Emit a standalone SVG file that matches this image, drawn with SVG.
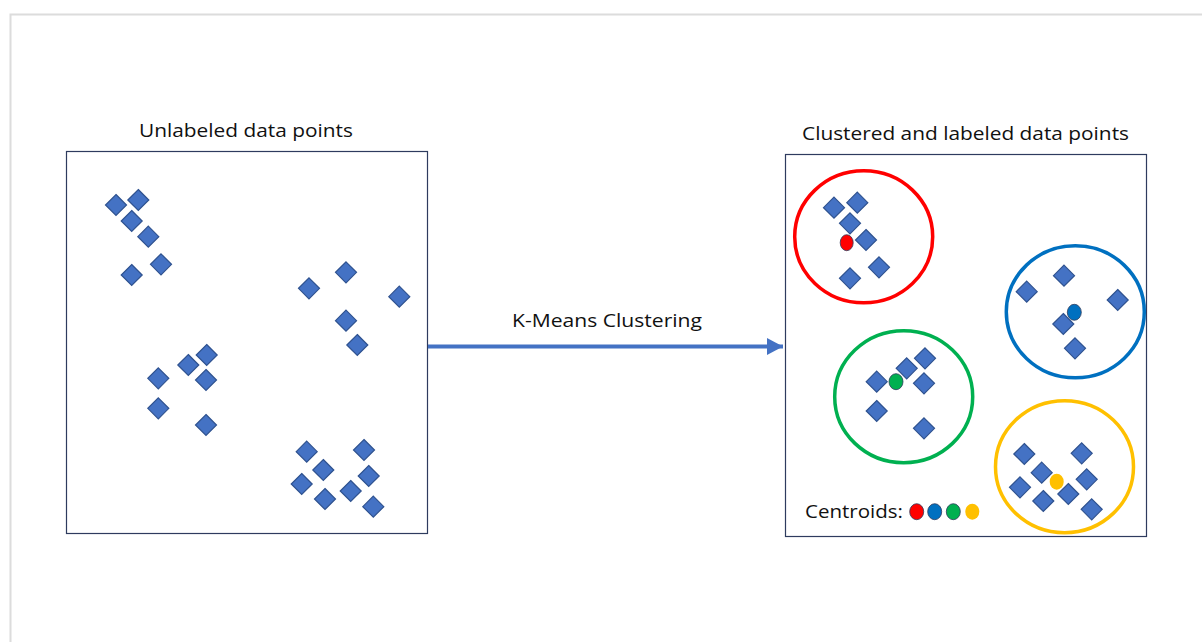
<svg xmlns="http://www.w3.org/2000/svg" xmlns:xlink="http://www.w3.org/1999/xlink" width="1202" height="642" viewBox="0 0 1202 642">
<style>
.box{fill:#fff;stroke:#2E3B5E;stroke-width:1.2}
.dm{fill:#4472C4;stroke:#2F528F;stroke-width:1.2}
.lbl{font-family:"Open Sans","Liberation Sans",sans-serif;fill:#111;}
.ring{fill:none;stroke-width:3.5}
.cen{stroke:#2F3B5C;stroke-width:0.8}
</style>
<defs>
<path id="d" d="M0,-10.5 L10.5,0 L0,10.5 L-10.5,0 Z" class="dm"/>
<marker id="ah" markerWidth="5" markerHeight="5" refX="4" refY="2.5" orient="auto" markerUnits="strokeWidth">
<path d="M0,0.4 L4,2.5 L0,4.6 Z" fill="#4472C4"/>
</marker>
</defs>
<rect width="1202" height="642" fill="#fff"/>
<path d="M10.5,642 L10.5,14.5 L1202,14.5" fill="none" stroke="#DCDCDC" stroke-width="2"/>

<g id="unlabeled">
<text class="lbl" x="139" y="137" font-size="18" textLength="214" lengthAdjust="spacingAndGlyphs">Unlabeled data points</text>
<rect class="box" x="66.5" y="151.5" width="361" height="382"/>
<use xlink:href="#d" x="116" y="205"/>
<use xlink:href="#d" x="138.3" y="200"/>
<use xlink:href="#d" x="131.7" y="221"/>
<use xlink:href="#d" x="148.3" y="236.7"/>
<use xlink:href="#d" x="161" y="264.3"/>
<use xlink:href="#d" x="131.7" y="275"/>
<use xlink:href="#d" x="346" y="272.3"/>
<use xlink:href="#d" x="309" y="288.3"/>
<use xlink:href="#d" x="399.3" y="296.7"/>
<use xlink:href="#d" x="346" y="320.7"/>
<use xlink:href="#d" x="357.3" y="345"/>
<use xlink:href="#d" x="206.7" y="355"/>
<use xlink:href="#d" x="188.3" y="365"/>
<use xlink:href="#d" x="158.3" y="378.3"/>
<use xlink:href="#d" x="206" y="380"/>
<use xlink:href="#d" x="158.3" y="408.3"/>
<use xlink:href="#d" x="206" y="425"/>
<use xlink:href="#d" x="306.7" y="451.7"/>
<use xlink:href="#d" x="364" y="450"/>
<use xlink:href="#d" x="323.3" y="470"/>
<use xlink:href="#d" x="368.7" y="476"/>
<use xlink:href="#d" x="301.7" y="484"/>
<use xlink:href="#d" x="350.7" y="491"/>
<use xlink:href="#d" x="325" y="499"/>
<use xlink:href="#d" x="373.3" y="506.7"/>
</g>

<g id="connectors">
<line x1="428" y1="346.5" x2="783" y2="346.5" stroke="#4472C4" stroke-width="4" marker-end="url(#ah)"/>
<text class="lbl" x="512" y="327" font-size="18" textLength="190" lengthAdjust="spacingAndGlyphs">K-Means Clustering</text>
</g>

<g id="clustered">
<text class="lbl" x="802" y="140" font-size="18" textLength="327" lengthAdjust="spacingAndGlyphs">Clustered and labeled data points</text>
<rect class="box" x="785.5" y="154.5" width="361" height="382"/>
</g>

<g id="cluster-red">
<ellipse class="ring" cx="863.7" cy="236.8" rx="69" ry="66" stroke="#FF0000"/>
<use xlink:href="#d" x="834" y="207.7"/>
<use xlink:href="#d" x="857.3" y="202.7"/>
<use xlink:href="#d" x="850" y="223.3"/>
<use xlink:href="#d" x="866" y="240"/>
<use xlink:href="#d" x="879" y="267.3"/>
<use xlink:href="#d" x="850" y="278.3"/>
<ellipse class="cen" cx="846.7" cy="242.7" rx="6.5" ry="8" fill="#FF0000"/>
</g>

<g id="cluster-blue">
<ellipse class="ring" cx="1075.3" cy="311.8" rx="69" ry="66" stroke="#0070C0"/>
<use xlink:href="#d" x="1064" y="275.7"/>
<use xlink:href="#d" x="1026.7" y="291.7"/>
<use xlink:href="#d" x="1117.7" y="300"/>
<use xlink:href="#d" x="1063.3" y="324"/>
<use xlink:href="#d" x="1075" y="348.3"/>
<ellipse class="cen" cx="1074.3" cy="312.3" rx="7" ry="8" fill="#0070C0"/>
</g>

<g id="cluster-green">
<ellipse class="ring" cx="903.7" cy="396.7" rx="69" ry="66" stroke="#00B050"/>
<use xlink:href="#d" x="925" y="358.3"/>
<use xlink:href="#d" x="906.7" y="368.3"/>
<use xlink:href="#d" x="876.7" y="381.7"/>
<use xlink:href="#d" x="924" y="383.3"/>
<use xlink:href="#d" x="876.7" y="411"/>
<use xlink:href="#d" x="924" y="428.3"/>
<ellipse class="cen" cx="896" cy="381.7" rx="7" ry="8" fill="#00B050"/>
</g>

<g id="cluster-yellow">
<ellipse class="ring" cx="1064.5" cy="466.7" rx="69" ry="66" stroke="#FFC000"/>
<use xlink:href="#d" x="1024.3" y="454"/>
<use xlink:href="#d" x="1081.7" y="453.3"/>
<use xlink:href="#d" x="1041.7" y="472.7"/>
<use xlink:href="#d" x="1086.7" y="479.3"/>
<use xlink:href="#d" x="1020" y="487.3"/>
<use xlink:href="#d" x="1068.3" y="494"/>
<use xlink:href="#d" x="1043.3" y="501"/>
<use xlink:href="#d" x="1091.7" y="509.3"/>
<ellipse cx="1056.7" cy="481.7" rx="7" ry="8" fill="#FFC000"/>
</g>

<g id="legend">
<text class="lbl" x="805" y="518" font-size="19" textLength="98" lengthAdjust="spacingAndGlyphs">Centroids:</text>
<ellipse class="cen" cx="916.7" cy="511.7" rx="7" ry="8" fill="#FF0000"/>
<ellipse class="cen" cx="934.7" cy="511.7" rx="7" ry="8" fill="#0070C0"/>
<ellipse class="cen" cx="953.3" cy="511.7" rx="7" ry="8" fill="#00B050"/>
<ellipse cx="972.3" cy="511.7" rx="7" ry="8" fill="#FFC000"/>
</g>
</svg>
